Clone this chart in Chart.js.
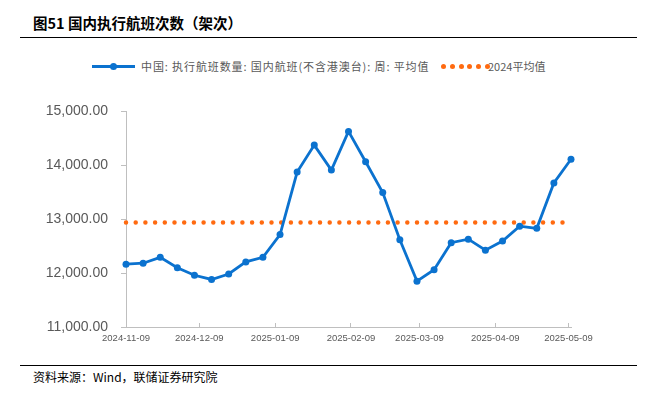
<!DOCTYPE html>
<html>
<head>
<meta charset="utf-8">
<script src="https://cdn.jsdelivr.net/npm/chart.js@4/dist/chart.umd.min.js"></script>
<style>
  body { margin: 0; width: 650px; height: 397px; background: #fff; position: relative; overflow: hidden;
         font-family: "Noto Sans CJK SC", "Liberation Sans", sans-serif; }
  .title { position: absolute; left: 33px; top: 12px; font-size: 14.5px; font-weight: bold; color: #000; }
  .rule { position: absolute; left: 20px; width: 617px; height: 1px; background: #000; }
  .legend { position: absolute; top: 58px; font-size: 11px; color: #595959; line-height: 16px; white-space: nowrap; }
  .bl { position: absolute; left: 92px; top: 65px; width: 43px; height: 3px; background: #0B72CF; }
  .bd { position: absolute; left: 110px; top: 63px; width: 7px; height: 7px; border-radius: 50%; background: #0B72CF; }
  .od { position: absolute; top: 64px; width: 5px; height: 5px; border-radius: 50%; background: #FF6A10; }
  .src { position: absolute; left: 33px; top: 368px; font-size: 12px; color: #000; }
  #wrap { position: absolute; left: 0; top: 90px; width: 650px; height: 260px; }
</style>
</head>
<body>
<div class="title">图51 国内执行航班次数（架次）</div>
<div class="rule" style="top:37px"></div>

<div class="bl"></div><div class="bd"></div>
<div class="legend" style="left:141px; letter-spacing:0.9px">中国: 执行航班数量: 国内航班(不含港澳台): 周: 平均值</div>
<div id="odots"></div>
<div class="legend" style="left:488px">2024平均值</div>

<div id="wrap"><canvas id="c" width="650" height="260"></canvas></div>

<div class="rule" style="top:365px"></div>
<div class="src">资料来源：Wind，联储证券研究院</div>

<script>
// ---------------- Data ----------------
const dates = [
  "2024-11-09", "2024-11-16", "2024-11-23", "2024-11-30", "2024-12-07", "2024-12-14",
  "2024-12-21", "2024-12-28", "2025-01-04", "2025-01-11", "2025-01-18", "2025-01-25",
  "2025-02-01", "2025-02-08", "2025-02-15", "2025-02-22", "2025-03-01", "2025-03-08",
  "2025-03-15", "2025-03-22", "2025-03-29", "2025-04-05", "2025-04-12", "2025-04-19",
  "2025-04-26", "2025-05-03", "2025-05-10"
];
const flights = [
  12165, 12183, 12292, 12099, 11960, 11882, 11984, 12208, 12292, 12715,
  13875, 14375, 13911, 14629, 14067, 13494, 12618, 11851, 12063, 12563,
  12630, 12425, 12594, 12871, 12830, 13672, 14112
];
const avg2024 = 12940;
const tickLabels = ["2024-11-09", "2024-12-09", "2025-01-09", "2025-02-09", "2025-03-09", "2025-04-09", "2025-05-09"];

// days since the first date, used as x
const t0 = Date.parse(dates[0]);
const dayOf = d => Math.round((Date.parse(d) - t0) / 86400000);
const tickDays = tickLabels.map(dayOf);

// legend dots for the orange series
const od = document.getElementById("odots");
for (let i = 0; i < 6; i++) {
  const s = document.createElement("div");
  s.className = "od";
  s.style.left = (441 + i * 8.8) + "px";
  od.appendChild(s);
}

// ---------------- Chart ----------------
const gray = "#595959";
new Chart(document.getElementById("c"), {
  type: "line",
  data: {
    datasets: [
      {
        label: "2024平均值",
        data: [{ x: dayOf(dates[0]), y: avg2024 }, { x: dayOf(dates[dates.length - 1]), y: avg2024 }],
        borderColor: "#FF6A10",
        borderWidth: 4.5,
        borderDash: [0, 9.7],
        borderCapStyle: "round",
        pointRadius: 0,
        clip: false,
        order: 2
      },
      {
        label: "中国: 执行航班数量: 国内航班(不含港澳台): 周: 平均值",
        data: dates.map((d, i) => ({ x: dayOf(d), y: flights[i] })),
        borderColor: "#0B72CF",
        backgroundColor: "#0B72CF",
        borderWidth: 2.8,
        pointRadius: 3.5,
        pointBorderWidth: 0,
        tension: 0,
        clip: false,
        order: 1
      }
    ]
  },
  options: {
    responsive: false,
    animation: false,
    layout: { padding: { top: 16, right: 79, left: 0, bottom: 0 } },
    plugins: { legend: { display: false }, tooltip: { enabled: false } },
    scales: {
      x: {
        type: "linear",
        min: 0,
        max: dayOf(dates[dates.length - 1]),
        afterBuildTicks: s => { s.ticks = tickDays.map(v => ({ value: v })); },
        afterFit: s => { s.height = 23; },
        // negative length draws the small ticks upward, inside the plot
        grid: { drawOnChartArea: false, tickLength: -4, color: "#BFBFBF" },
        border: { color: "#BFBFBF" },
        ticks: {
          autoSkip: false,
          maxRotation: 0,
          padding: 10,
          color: gray,
          font: { family: "Liberation Sans", size: 9.5 },
          callback: v => tickLabels[tickDays.indexOf(v)]
        }
      },
      y: {
        min: 11000,
        max: 15000,
        afterFit: s => { s.width = 126; },
        grid: { drawOnChartArea: false, tickLength: 5, color: "#BFBFBF" },
        border: { color: "#BFBFBF" },
        ticks: {
          stepSize: 1000,
          padding: 13,
          color: gray,
          font: { family: "Liberation Sans", size: 14 },
          callback: v => v.toLocaleString("en-US", { minimumFractionDigits: 2, maximumFractionDigits: 2 })
        }
      }
    }
  }
});
</script>
</body>
</html>
